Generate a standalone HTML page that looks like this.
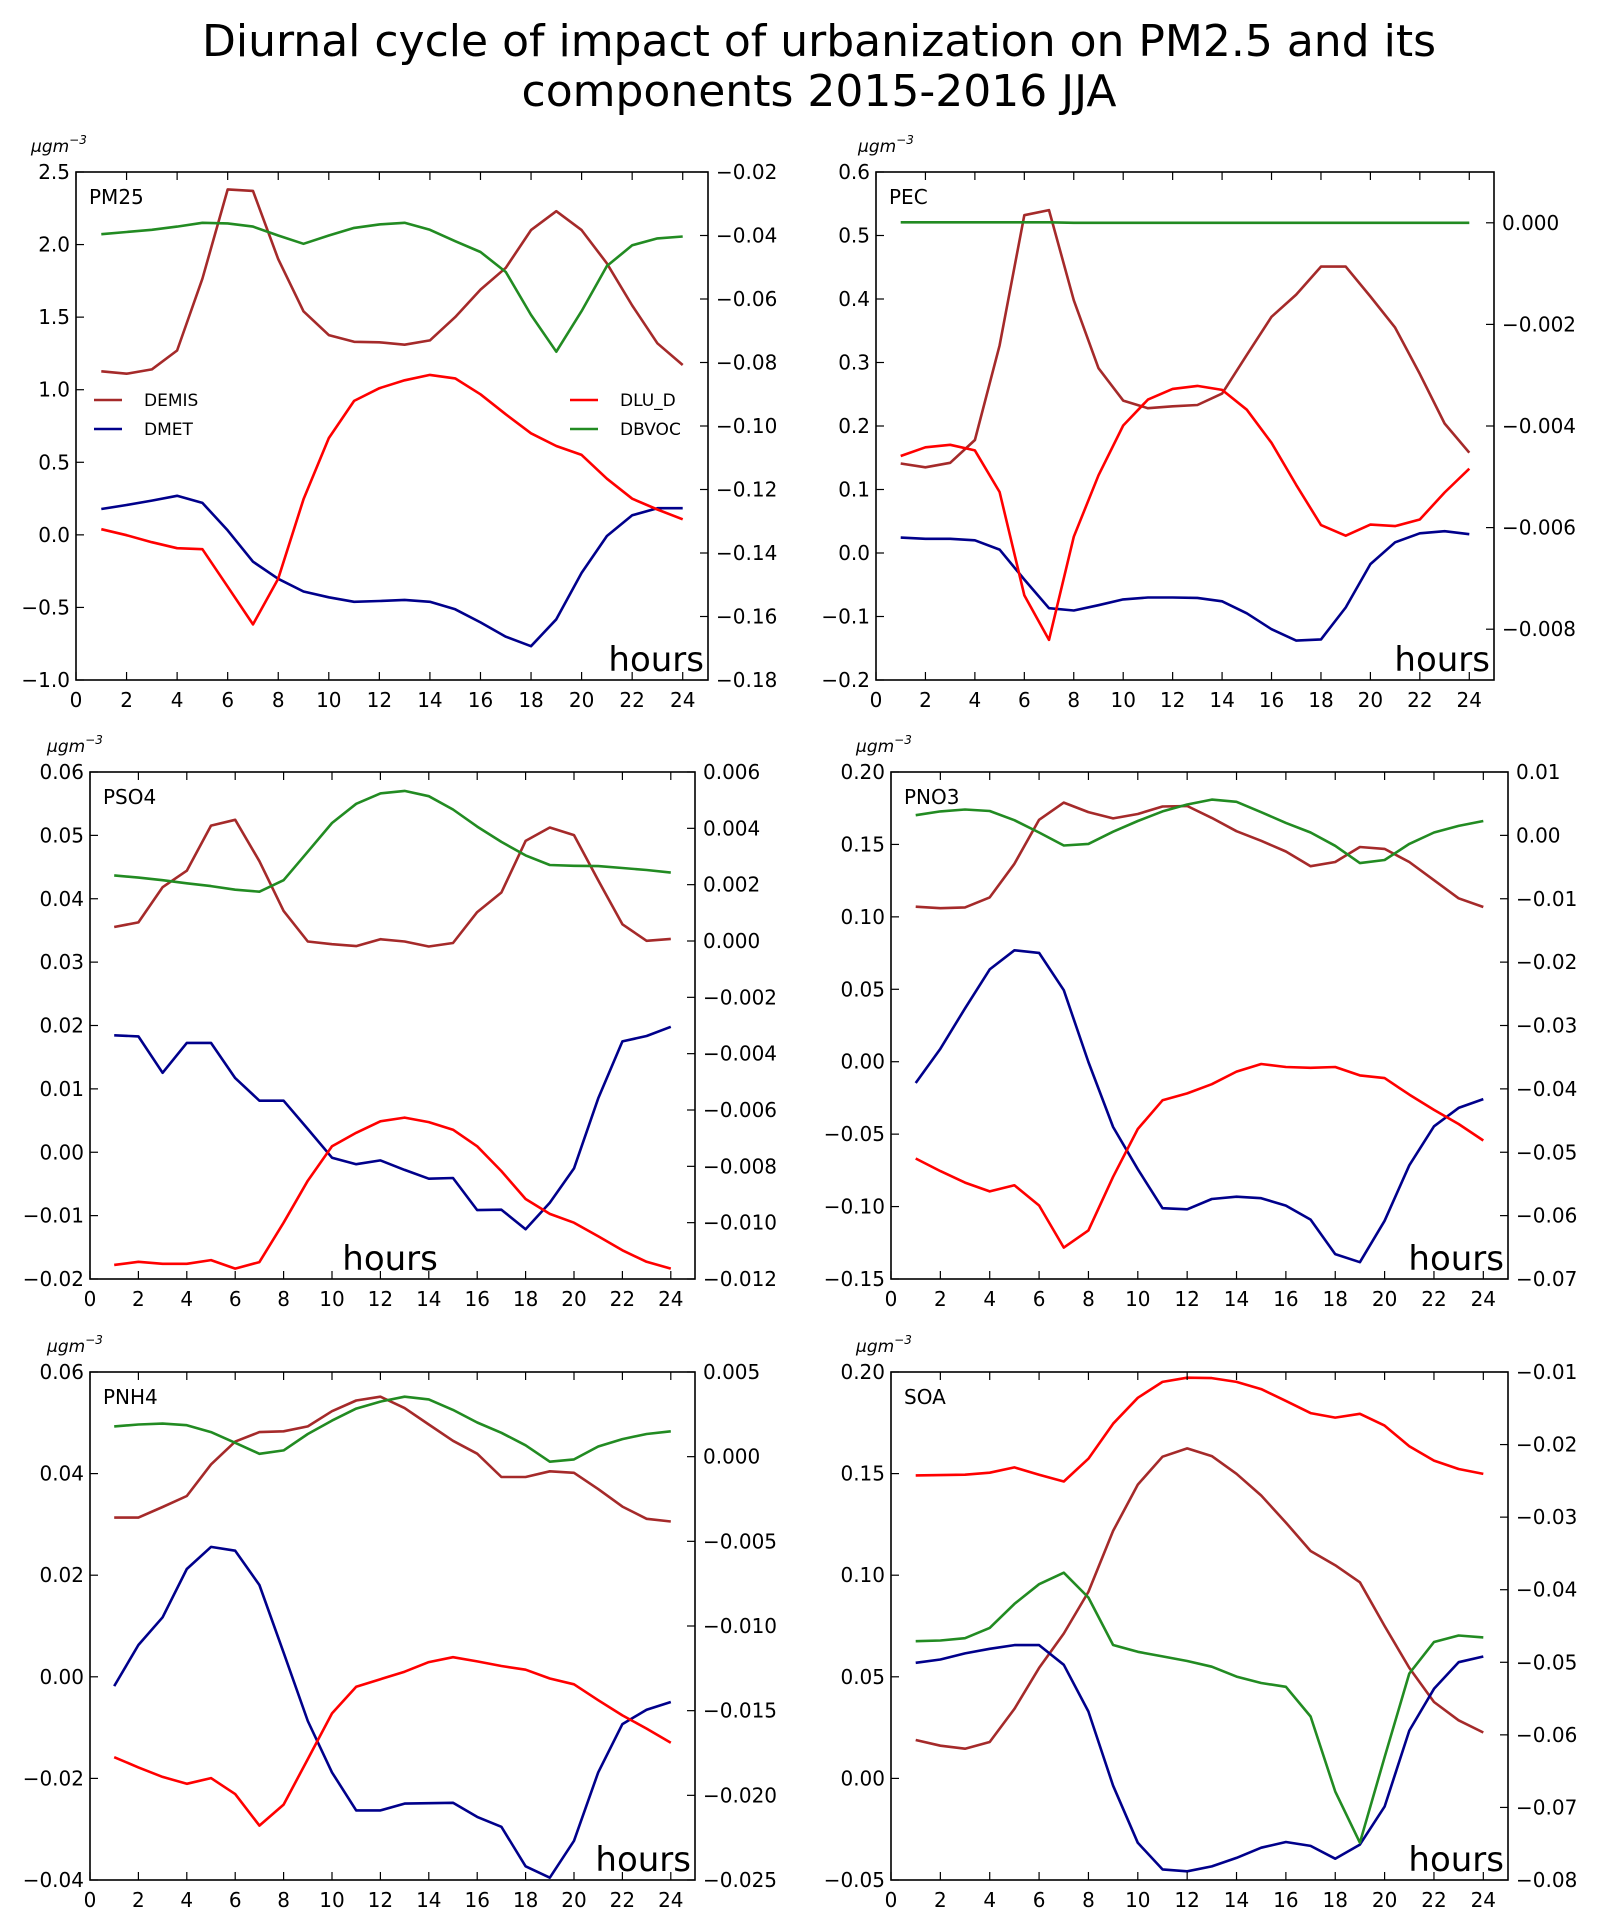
<!DOCTYPE html>
<html><head><meta charset="utf-8">
<style>
html,body{margin:0;padding:0;background:#fff;}
svg{display:block;}
text{font-family:"DejaVu Sans","Liberation Sans",sans-serif;fill:#000;}
</style></head>
<body>
<svg id="fig" width="1613" height="1925" viewBox="0 0 1613 1925" xmlns="http://www.w3.org/2000/svg">
<rect x="0" y="0" width="1613" height="1925" fill="#fff"/>
<text x="819" y="56" font-size="44" text-anchor="middle">Diurnal cycle of impact of urbanization on PM2.5 and its</text>
<text x="819" y="106" font-size="44" text-anchor="middle">components 2015-2016 JJA</text>
</svg>
<script>
const hours=[1,2,3,4,5,6,7,8,9,10,11,12,13,14,15,16,17,18,19,20,21,22,23,24];
const xTicks=[0,2,4,6,8,10,12,14,16,18,20,22,24];

const pm25Demis=[1.127,1.11,1.14,1.27,1.765,2.38,2.37,1.90,1.54,1.376,1.33,1.327,1.31,1.34,1.50,1.69,1.84,2.10,2.23,2.10,1.87,1.58,1.32,1.17];
const pm25Dmet=[0.178,0.206,0.236,0.269,0.22,0.031,-0.185,-0.303,-0.39,-0.43,-0.461,-0.456,-0.448,-0.461,-0.513,-0.603,-0.702,-0.767,-0.582,-0.262,-0.008,0.135,0.184,0.184];
const pm25Dlud=[-0.1325,-0.1344,-0.1366,-0.1385,-0.1388,-0.1506,-0.1625,-0.1481,-0.1231,-0.1038,-0.0921,-0.0881,-0.0856,-0.0839,-0.085,-0.09,-0.0963,-0.1023,-0.1063,-0.1091,-0.1166,-0.1229,-0.1263,-0.1294];
const pm25Dbvoc=[-0.0396,-0.0389,-0.0382,-0.0372,-0.036,-0.0362,-0.0372,-0.04,-0.0426,-0.04,-0.0376,-0.0365,-0.036,-0.0382,-0.0418,-0.0452,-0.0515,-0.065,-0.0766,-0.0638,-0.0496,-0.0431,-0.0409,-0.0403];
const pm25LeftTicks=[-1.0,-0.5,0.0,0.5,1.0,1.5,2.0,2.5];
const pm25RightTicks=[-0.18,-0.16,-0.14,-0.12,-0.10,-0.08,-0.06,-0.04,-0.02];

const pecDemis=[0.141,0.135,0.142,0.178,0.327,0.532,0.540,0.398,0.291,0.240,0.228,0.231,0.233,0.251,0.312,0.372,0.407,0.451,0.451,0.404,0.355,0.282,0.204,0.158];
const pecDmet=[0.0242,0.0224,0.0224,0.02,0.0054,-0.0417,-0.087,-0.0906,-0.0822,-0.0731,-0.07,-0.07,-0.0707,-0.0761,-0.0949,-0.120,-0.138,-0.136,-0.0858,-0.0175,0.0169,0.031,0.0344,0.0296];
const pecDlud=[-0.00459,-0.00442,-0.00437,-0.00448,-0.0053,-0.00733,-0.00821,-0.00618,-0.00497,-0.00399,-0.00348,-0.00327,-0.00321,-0.00329,-0.00368,-0.00433,-0.00516,-0.00595,-0.00616,-0.00594,-0.00597,-0.00584,-0.00531,-0.00484];
const pecDbvoc=[0.00001,0.00001,0.00001,0.00001,0.00001,0.00001,0.00001,0,0,0,0,0,0,0,0,0,0,0,0,0,0,0,0,0];
const pecLeftTicks=[-0.2,-0.1,0.0,0.1,0.2,0.3,0.4,0.5,0.6];
const pecRightTicks=[-0.008,-0.006,-0.004,-0.002,0.000];

const pso4Demis=[0.03555,0.03627,0.04183,0.04442,0.05155,0.05245,0.04593,0.03808,0.03325,0.03283,0.03253,0.03361,0.03325,0.03247,0.03301,0.0379,0.04098,0.04913,0.05124,0.05004,0.04291,0.03597,0.03337,0.03367];
const pso4Dmet=[0.01846,0.01828,0.01254,0.01725,0.01725,0.0117,0.00813,0.00813,0.00367,-0.00086,-0.00189,-0.00128,-0.00279,-0.00418,-0.00406,-0.00913,-0.00907,-0.01215,-0.00798,-0.00255,0.0085,0.01749,0.01834,0.01979];
const pso4Dlud=[-0.0115,-0.01139,-0.01146,-0.01146,-0.01133,-0.01163,-0.0114,-0.010,-0.00851,-0.00729,-0.00681,-0.0064,-0.00627,-0.00643,-0.0067,-0.00729,-0.00817,-0.00916,-0.00969,-0.010,-0.01048,-0.01098,-0.01139,-0.01163];
const pso4Dbvoc=[0.00233,0.00225,0.00216,0.00205,0.00195,0.00182,0.00175,0.00216,0.00317,0.00419,0.00487,0.00524,0.00533,0.00514,0.00467,0.00406,0.00352,0.00304,0.0027,0.00267,0.00266,0.00259,0.00252,0.00243];
const pso4LeftTicks=[-0.02,-0.01,0.00,0.01,0.02,0.03,0.04,0.05,0.06];
const pso4RightTicks=[-0.012,-0.010,-0.008,-0.006,-0.004,-0.002,0.000,0.002,0.004,0.006];

const pno3Demis=[0.107,0.106,0.1065,0.1134,0.1366,0.167,0.1789,0.1723,0.168,0.171,0.1762,0.1765,0.1683,0.1591,0.1525,0.1451,0.135,0.1379,0.1482,0.1469,0.1379,0.1253,0.1128,0.1068];
const pno3Dmet=[-0.0147,0.009,0.0368,0.0637,0.0769,0.0751,0.0494,-0.0002,-0.0451,-0.0742,-0.1011,-0.1019,-0.0948,-0.0932,-0.0942,-0.0993,-0.109,-0.1328,-0.1384,-0.1098,-0.0715,-0.0446,-0.0319,-0.0258];
const pno3Dlud=[-0.05098,-0.05298,-0.05479,-0.05618,-0.05521,-0.05841,-0.06505,-0.06233,-0.05388,-0.04633,-0.04181,-0.04072,-0.03927,-0.03728,-0.03607,-0.03655,-0.03667,-0.03655,-0.03788,-0.0383,-0.0409,-0.04331,-0.04555,-0.04815];
const pno3Dbvoc=[0.00318,0.00378,0.00408,0.00384,0.00239,0.00046,-0.00159,-0.00135,0.00058,0.00227,0.00378,0.00487,0.00565,0.00529,0.00366,0.00197,0.00046,-0.00165,-0.00437,-0.00389,-0.00135,0.00046,0.00149,0.00227];
const pno3LeftTicks=[-0.15,-0.10,-0.05,0.00,0.05,0.10,0.15,0.20];
const pno3RightTicks=[-0.07,-0.06,-0.05,-0.04,-0.03,-0.02,-0.01,0.00,0.01];

const pnh4Demis=[0.03133,0.03133,0.03343,0.0356,0.04181,0.0463,0.04817,0.04832,0.0493,0.05229,0.05439,0.05513,0.05289,0.04967,0.04645,0.04391,0.03934,0.03934,0.04046,0.04016,0.03695,0.0335,0.03111,0.03058];
const pnh4Dmet=[-0.00183,0.00626,0.01172,0.02123,0.02557,0.02482,0.01808,0.00476,-0.00871,-0.01882,-0.0263,-0.0263,-0.02496,-0.02488,-0.02481,-0.02757,-0.02952,-0.0373,-0.03955,-0.03229,-0.01882,-0.00931,-0.00647,-0.00497];
const pnh4Dlud=[-0.01775,-0.01835,-0.01891,-0.01932,-0.01898,-0.01993,-0.02179,-0.02055,-0.01786,-0.01516,-0.01359,-0.01314,-0.0127,-0.01213,-0.01184,-0.01209,-0.01236,-0.01258,-0.0131,-0.01344,-0.01438,-0.01528,-0.01606,-0.01689];
const pnh4Dbvoc=[0.00179,0.0019,0.00195,0.00186,0.00145,0.00082,0.00017,0.00037,0.00134,0.00213,0.00284,0.00325,0.00354,0.00338,0.00276,0.00202,0.00141,0.00067,-0.0003,-0.00016,0.0006,0.00104,0.00134,0.0015];
const pnh4LeftTicks=[-0.04,-0.02,0.00,0.02,0.04,0.06];
const pnh4RightTicks=[-0.025,-0.020,-0.015,-0.010,-0.005,0.000,0.005];

const soaDemis=[0.0189,0.0161,0.0146,0.0179,0.0342,0.0544,0.0713,0.0918,0.1218,0.1446,0.1583,0.1624,0.1586,0.1499,0.1392,0.1259,0.1119,0.1049,0.0965,0.075,0.0544,0.0376,0.0286,0.0226];
const soaDmet=[0.0569,0.0585,0.0615,0.0638,0.0656,0.0656,0.0559,0.0329,-0.0036,-0.0317,-0.0448,-0.0457,-0.0433,-0.0391,-0.0341,-0.0313,-0.0332,-0.0395,-0.0326,-0.0139,0.0235,0.0441,0.0572,0.0600];
const soaDlud=[-0.02425,-0.0242,-0.02415,-0.02388,-0.02315,-0.02415,-0.02509,-0.02195,-0.01713,-0.01356,-0.01136,-0.01079,-0.01084,-0.01136,-0.01236,-0.01398,-0.01566,-0.01629,-0.01576,-0.01739,-0.02022,-0.02221,-0.02336,-0.02404];
const soaDbvoc=[-0.0471,-0.047,-0.04668,-0.04526,-0.04196,-0.03924,-0.03766,-0.04107,-0.04762,-0.04856,-0.04919,-0.04982,-0.05061,-0.05197,-0.05286,-0.05338,-0.05747,-0.06779,-0.07486,-0.06308,-0.05155,-0.0472,-0.04631,-0.04657];
const soaLeftTicks=[-0.05,0.00,0.05,0.10,0.15,0.20];
const soaRightTicks=[-0.08,-0.07,-0.06,-0.05,-0.04,-0.03,-0.02,-0.01];

const NS='http://www.w3.org/2000/svg';
const svg=document.getElementById('fig');
const COL={demis:'#a52a2a',dmet:'#00008b',dlud:'#ff0000',dbvoc:'#228b22'};

function mk(tag,attrs,parent){
  const e=document.createElementNS(NS,tag);
  for(const k in attrs) e.setAttribute(k,attrs[k]);
  (parent||svg).appendChild(e);
  return e;
}
function fmt(v,d){
  const s=Math.abs(v).toFixed(d);
  return (v<-1e-12?'\u2212':'')+s;
}

const panels=[
 {key:'pm25',label:'PM25',x0:76,x1:708,y0:172,y1:680,lmin:-1,lmax:2.5,rmin:-0.18,rmax:-0.02,ld:1,rd:2,lt:pm25LeftTicks,rt:pm25RightTicks,s:[pm25Demis,pm25Dmet,pm25Dlud,pm25Dbvoc],hx:'right',ux:31,legend:true},
 {key:'pec',label:'PEC',x0:876,x1:1494,y0:172,y1:680,lmin:-0.2,lmax:0.6,rmin:-0.009,rmax:0.001,ld:1,rd:3,lt:pecLeftTicks,rt:pecRightTicks,s:[pecDemis,pecDmet,pecDlud,pecDbvoc],hx:'right',ux:858},
 {key:'pso4',label:'PSO4',x0:90,x1:695,y0:772,y1:1279,lmin:-0.02,lmax:0.06,rmin:-0.012,rmax:0.006,ld:2,rd:3,lt:pso4LeftTicks,rt:pso4RightTicks,s:[pso4Demis,pso4Dmet,pso4Dlud,pso4Dbvoc],hx:'mid',ux:47},
 {key:'pno3',label:'PNO3',x0:891,x1:1508,y0:772,y1:1279,lmin:-0.15,lmax:0.2,rmin:-0.07,rmax:0.01,ld:2,rd:2,lt:pno3LeftTicks,rt:pno3RightTicks,s:[pno3Demis,pno3Dmet,pno3Dlud,pno3Dbvoc],hx:'right',ux:856},
 {key:'pnh4',label:'PNH4',x0:90,x1:695,y0:1372,y1:1880,lmin:-0.04,lmax:0.06,rmin:-0.025,rmax:0.005,ld:2,rd:3,lt:pnh4LeftTicks,rt:pnh4RightTicks,s:[pnh4Demis,pnh4Dmet,pnh4Dlud,pnh4Dbvoc],hx:'right',ux:47},
 {key:'soa',label:'SOA',x0:891,x1:1508,y0:1372,y1:1880,lmin:-0.05,lmax:0.2,rmin:-0.08,rmax:-0.01,ld:2,rd:2,lt:soaLeftTicks,rt:soaRightTicks,s:[soaDemis,soaDmet,soaDlud,soaDbvoc],hx:'right',ux:856}
];
const keys=['demis','dmet','dlud','dbvoc'];
const onRight=[false,false,true,true];

panels.forEach(p=>{
  const g=mk('g',{});
  
  
  const X=h=>p.x0+(h-0)/(25-0)*(p.x1-p.x0);
  const YL=v=>p.y1-(v-p.lmin)/(p.lmax-p.lmin)*(p.y1-p.y0);
  const YR=v=>p.y1-(v-p.rmin)/(p.rmax-p.rmin)*(p.y1-p.y0);
  p.s.forEach((arr,i)=>{
    const Y=onRight[i]?YR:YL;
    const pts=arr.map((v,j)=>X(hours[j]).toFixed(1)+','+Y(v).toFixed(1)).join(' ');
    const pl=mk('polyline',{points:pts,fill:'none',stroke:COL[keys[i]],'stroke-width':2.6,'stroke-linejoin':'round'},g);
    
    
  });
  const fr=mk('rect',{x:p.x0,y:p.y0,width:p.x1-p.x0,height:p.y1-p.y0,fill:'none',stroke:'#000','stroke-width':1.6},g);
  
  
  xTicks.forEach(t=>{
    const x=X(t);
    mk('line',{x1:x,y1:p.y1,x2:x,y2:p.y1-8,stroke:'#000','stroke-width':1.2},g);
    mk('line',{x1:x,y1:p.y0,x2:x,y2:p.y0+8,stroke:'#000','stroke-width':1.2},g);
    const tx=mk('text',{x:x,y:p.y1+27,'font-size':20,'text-anchor':'middle'},g);
    tx.textContent=String(t);
    
    
  });
  p.lt.forEach(t=>{
    const y=YL(t);
    mk('line',{x1:p.x0,y1:y,x2:p.x0+8,y2:y,stroke:'#000','stroke-width':1.2},g);
    const tx=mk('text',{x:p.x0-6,y:y+7,'font-size':20,'text-anchor':'end'},g);
    tx.textContent=fmt(t,p.ld);
    
    
  });
  p.rt.forEach(t=>{
    const y=YR(t);
    mk('line',{x1:p.x1,y1:y,x2:p.x1-8,y2:y,stroke:'#000','stroke-width':1.2},g);
    const tx=mk('text',{x:p.x1+8,y:y+7,'font-size':20,'text-anchor':'start'},g);
    tx.textContent=fmt(t,p.rd);
    
    
  });
  const lb=mk('text',{x:p.x0+13,y:p.y0+32,'font-size':20},g);
  lb.textContent=p.label;
  
  
  const hx=p.hx==='mid'?X(12.4):p.x1-4;
  const hr=mk('text',{x:hx,y:p.y1-9,'font-size':34,'text-anchor':p.hx==='mid'?'middle':'end'},g);
  hr.textContent='hours';
  
  
  const un=mk('text',{x:p.ux,y:p.y0-20,'font-size':17,'font-style':'italic','font-family':'Liberation Serif, serif'},g);
  un.textContent='\u03bcgm';
  const sup=mk('tspan',{dy:-8,'font-size':12},un);
  sup.textContent='\u22123';
  
  
  if(p.legend){
    const items=[['DEMIS','demis',94,400],['DMET','dmet',94,429],['DLU_D','dlud',570,400],['DBVOC','dbvoc',570,429]];
    items.forEach(it=>{
      const lg=mk('g',{},g);
      
      
      mk('line',{x1:it[2],y1:it[3],x2:it[2]+28,y2:it[3],stroke:COL[it[1]],'stroke-width':2.6},lg);
      const t=mk('text',{x:it[2]+50,y:it[3]+6,'font-size':17},lg);
      t.textContent=it[0];
    });
  }
});
</script>
</body></html>
